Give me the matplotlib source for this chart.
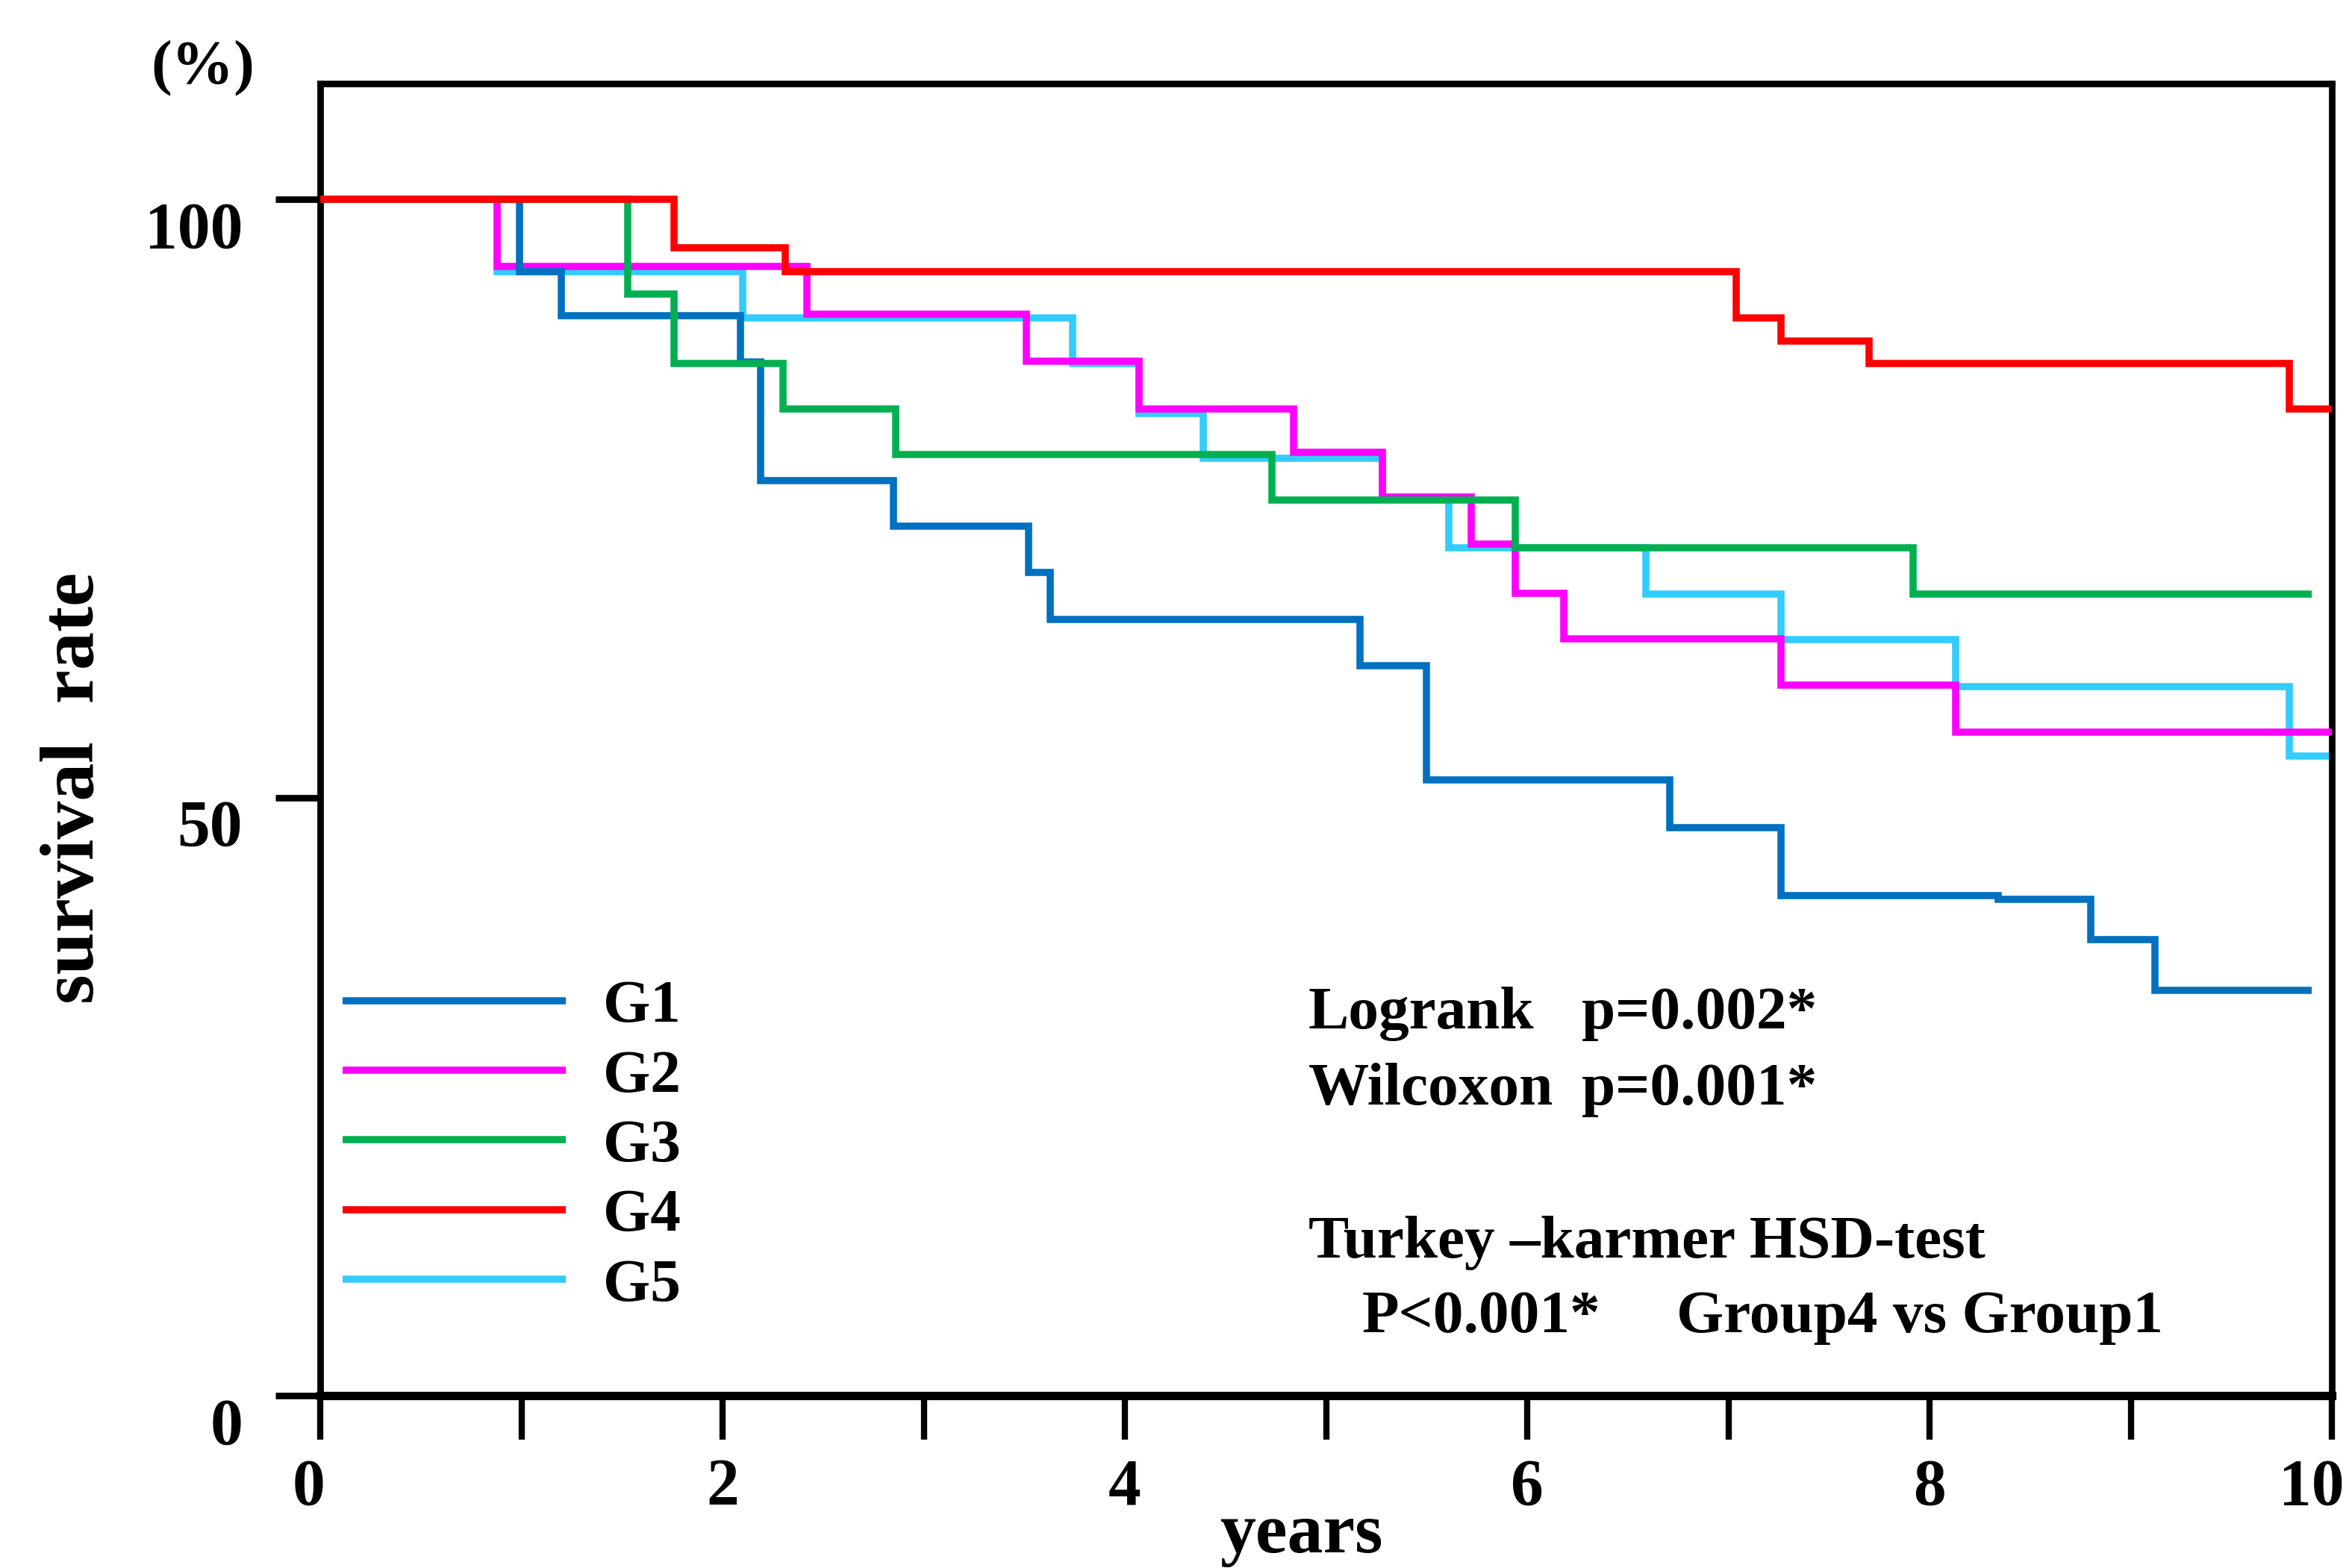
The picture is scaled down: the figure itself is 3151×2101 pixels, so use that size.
"""
Kaplan-Meier style survival curves for five groups (G1-G5) over 10 years.
"""
import matplotlib
matplotlib.use("Agg")
import matplotlib.pyplot as plt
import matplotlib.transforms as mtransforms

# ---------------------------------------------------------------------------
# Data (years, survival %)
# ---------------------------------------------------------------------------
g1_years = [0, 0.99, 1.20, 2.09, 2.19, 2.85, 3.52, 3.63, 5.17, 5.50, 6.71, 7.26, 8.34, 8.80, 9.12, 9.90]
g1_surv  = [100, 94.0, 90.3, 86.4, 76.5, 72.7, 68.8, 64.9, 61.0, 51.5, 47.5, 41.8, 41.5, 38.1, 33.9, 33.9]

g2_years = [0, 0.88, 2.42, 3.51, 4.07, 4.84, 5.28, 5.72, 5.94, 6.18, 7.26, 8.13, 10.0]
g2_surv  = [100, 94.4, 90.4, 86.5, 82.5, 78.9, 75.1, 71.2, 67.1, 63.3, 59.4, 55.5, 55.5]

g3_years = [0, 1.53, 1.76, 2.30, 2.86, 4.73, 5.94, 7.92, 9.90]
g3_surv  = [100, 92.1, 86.3, 82.5, 78.7, 74.9, 70.9, 67.0, 67.0]

g4_years = [0, 1.76, 2.31, 7.04, 7.26, 7.70, 9.79, 10.0]
g4_surv  = [100, 96.0, 94.0, 90.1, 88.2, 86.3, 82.5, 82.5]

g5_years = [0, 0.88, 2.10, 3.74, 4.07, 4.39, 5.28, 5.61, 6.59, 7.26, 8.13, 9.79, 10.0]
g5_surv  = [100, 94.0, 90.1, 86.3, 82.1, 78.4, 75.0, 70.9, 67.0, 63.2, 59.3, 53.5, 53.5]

group_labels = ["G1", "G2", "G3", "G4", "G5"]
group_colors = ["#0070C0", "#FF00FF", "#00B050", "#FF0000", "#33CCFF"]
group_zorder = [4, 3, 5, 6, 2]

x_ticks = list(range(11))
x_tick_labels = ["0", "", "2", "", "4", "", "6", "", "8", "", "10"]
y_ticks = [0, 50, 100]
y_tick_labels = ["0", "50", "100"]

# ---------------------------------------------------------------------------
# Style
# ---------------------------------------------------------------------------
plt.rcParams.update({
    "font.family": ["Liberation Serif", "DejaVu Serif"],
    "font.weight": "bold",
})

W, H, DPI = 3151, 2101, 300
fig = plt.figure(figsize=(W / DPI, H / DPI), dpi=DPI)
fig.patch.set_facecolor("white")

# axes box measured in pixels of the reference
ax_left, ax_right, ax_top, ax_bottom = 429, 3124, 112, 1870
ax = fig.add_axes([ax_left / W, (H - ax_bottom) / H,
                   (ax_right - ax_left) / W, (ax_bottom - ax_top) / H])

LW = 2.3
series = [
    (g1_years, g1_surv),
    (g2_years, g2_surv),
    (g3_years, g3_surv),
    (g4_years, g4_surv),
    (g5_years, g5_surv),
]
handles = []
for (yrs, surv), lab, col, z in zip(series, group_labels, group_colors, group_zorder):
    ln, = ax.step(yrs, surv, where="post", color=col, linewidth=LW,
                  solid_capstyle="butt", solid_joinstyle="miter",
                  label=lab, zorder=z)
    handles.append(ln)

ax.set_xlim(0, 10)
ax.set_ylim(0, 109.7)

for side in ("left", "top", "right"):
    ax.spines[side].set_linewidth(2.1)
ax.spines["bottom"].set_linewidth(2.7)

ax.set_xticks(x_ticks)
ax.set_xticklabels(x_tick_labels)
ax.set_yticks(y_ticks)
ax.set_yticklabels(y_tick_labels)
ax.tick_params(axis="x", direction="out", length=14.2, width=2.0,
               labelsize=21, pad=5.8)
ax.tick_params(axis="y", direction="out", length=14.4, width=2.1,
               labelsize=21, pad=10.5)

# y tick labels sit a little below their ticks in the original
shift = mtransforms.ScaledTranslation(0, -8.0 / 72, fig.dpi_scale_trans)
for lbl in ax.get_yticklabels():
    lbl.set_transform(lbl.get_transform() + shift)

# first and last x labels are nudged inwards, as in the original
xlbls = ax.get_xticklabels()
xlbls[0].set_transform(xlbls[0].get_transform()
                       + mtransforms.ScaledTranslation(-3.8 / 72, 0, fig.dpi_scale_trans))
xlbls[-1].set_transform(xlbls[-1].get_transform()
                        + mtransforms.ScaledTranslation(-6.5 / 72, 0, fig.dpi_scale_trans))

# axis labels
fig.text(100 / W, 1 - 1056 / H, "survival  rate", rotation=90,
         ha="center", va="center", fontsize=24.5)
fig.text(1743 / W, 1 - 2080 / H, "years", ha="center", va="baseline",
         fontsize=23)
fig.text(272 / W, 1 - 92 / H, "(%)", ha="center", va="center", fontsize=20)

# legend
ax.legend(handles=handles, loc="center left",
          bbox_to_anchor=(0.011, 0.190), frameon=False,
          fontsize=19.5, handlelength=3.68, handletextpad=0.615,
          labelspacing=0.24, borderpad=0, borderaxespad=0)

# statistics text
TXT = 19.5
def ax_xy(px, py):
    return ((px - ax_left) / (ax_right - ax_left),
            (ax_bottom - py) / (ax_bottom - ax_top))

for (px, py), s in [
    ((1753, 1378), "Logrank"),
    ((2119, 1378), "p=0.002*"),
    ((1753, 1480), "Wilcoxon"),
    ((2119, 1480), "p=0.001*"),
    ((1753, 1685), "Turkey \u2013karmer HSD-test"),
    ((1825, 1785), "P<0.001*"),
    ((2246, 1785), "Group4 vs Group1"),
]:
    x, y = ax_xy(px, py)
    ax.text(x, y, s, transform=ax.transAxes, ha="left", va="baseline",
            fontsize=TXT)

fig.savefig("out.png", dpi=DPI, facecolor="white")
